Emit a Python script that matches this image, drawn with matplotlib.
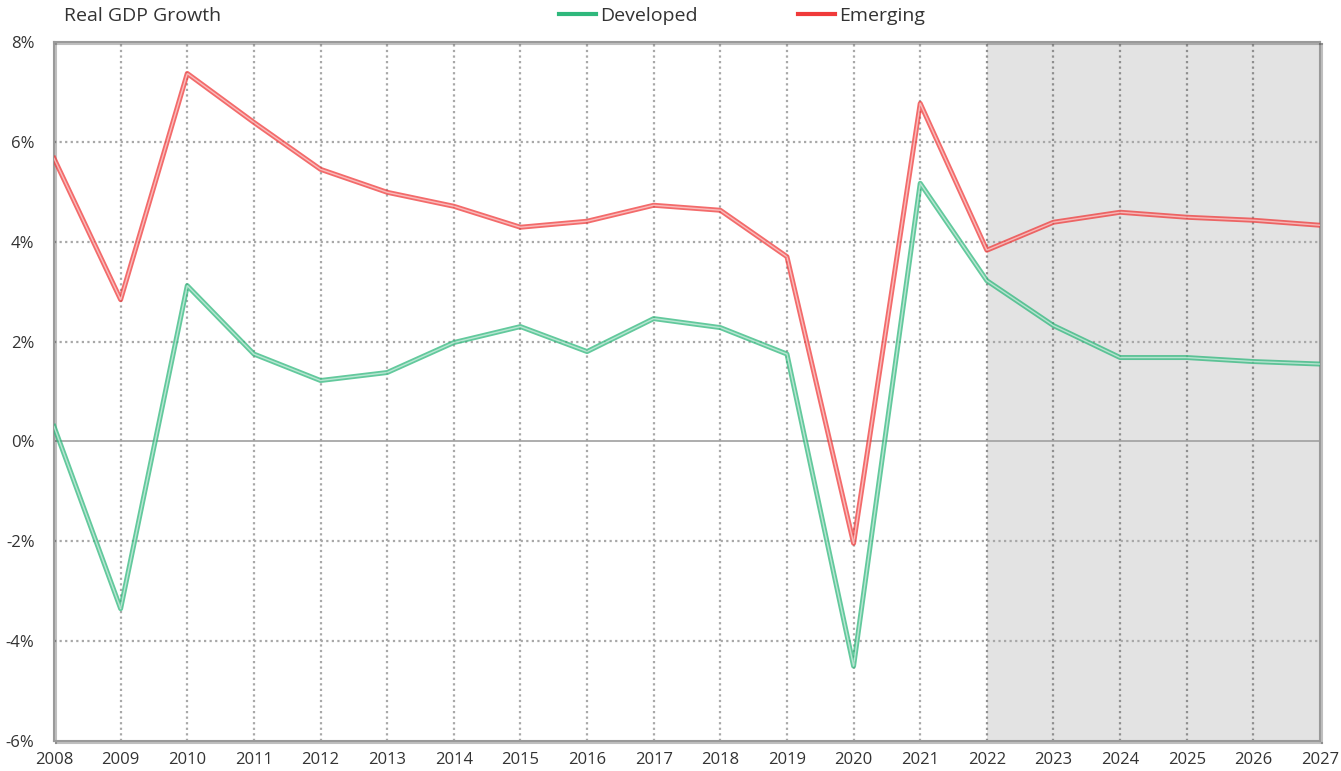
import matplotlib.pyplot as plt
from matplotlib.lines import Line2D
import matplotlib.patheffects as pe

plt.rcParams['font.family'] = ['Open Sans', 'DejaVu Sans']

years = list(range(2008, 2028))
developed = [0.30, -3.35, 3.12, 1.75, 1.22, 1.38, 1.98, 2.30, 1.80, 2.46,
             2.28, 1.75, -4.50, 5.17, 3.22, 2.32, 1.68, 1.68, 1.60, 1.55]
emerging = [5.67, 2.84, 7.37, 6.39, 5.45, 4.99, 4.71, 4.29, 4.41, 4.73,
            4.63, 3.70, -2.04, 6.77, 3.83, 4.39, 4.59, 4.49, 4.43, 4.33]
forecast_start = 2022
yticks = [-6, -4, -2, 0, 2, 4, 6, 8]

green = '#2fb87c'
red = '#f03a3a'
txt = '#333333'

fig = plt.figure(figsize=(13.41, 7.71), dpi=100)
ax = fig.add_axes([54/1341, 30/771, 1266/1341, 699/771])

ax.axvspan(forecast_start, years[-1], color='#e3e3e3', zorder=0, lw=0)

for x in years[1:-1]:
    c = '#8f8f8f' if x >= forecast_start else '#a8a8a8'
    ax.axvline(x, color=c, ls=(0, (1, 1.5)), lw=1.6, zorder=1)
for y in yticks[1:-1]:
    if y == 0:
        ax.axhline(0, color='#a0a0a0', lw=1.2, zorder=1)
    else:
        ax.axhline(y, color='#a8a8a8', ls=(0, (1, 1.5)), lw=1.6, zorder=1)

def double_line(vals, col):
    ax.plot(years, vals, color=col, lw=3.6, alpha=0.75, zorder=3)
    ax.plot(years, vals, color='white', lw=1.0, alpha=0.55, zorder=4)

double_line(developed, green)
double_line(emerging, red)

ax.set_xlim(years[0], years[-1])
ax.set_ylim(-6, 8)
ax.set_xticks(years)
ax.set_xticklabels([str(y) for y in years], fontsize=12, color=txt)
ax.set_yticks(yticks)
ax.set_yticklabels([f'{y}%' for y in yticks], fontsize=12, color=txt)
ax.tick_params(length=0, pad=8)
ax.tick_params(axis='y', pad=14)
for s in ax.spines.values():
    s.set_color('#9a9a9a')
    s.set_linewidth(1.5)
    s.set_path_effects([pe.SimpleLineShadow(offset=(1.5, -1.5), alpha=0.25),
                        pe.Normal()])

fig.text(64/1341, 1 - 16/771, 'Real GDP Growth', fontsize=14, color=txt,
         va='center', ha='left')

handles = [Line2D([0], [0], color=green, lw=3), Line2D([0], [0], color=red, lw=3)]
fig.legend(handles, ['Developed', 'Emerging'], loc='center',
           bbox_to_anchor=(742/1341, 1 - 16/771), ncol=2, frameon=False,
           fontsize=14, handlelength=1.9, handletextpad=0.2, columnspacing=5.2,
           labelcolor=txt)

fig.savefig('out.png', dpi=100)
